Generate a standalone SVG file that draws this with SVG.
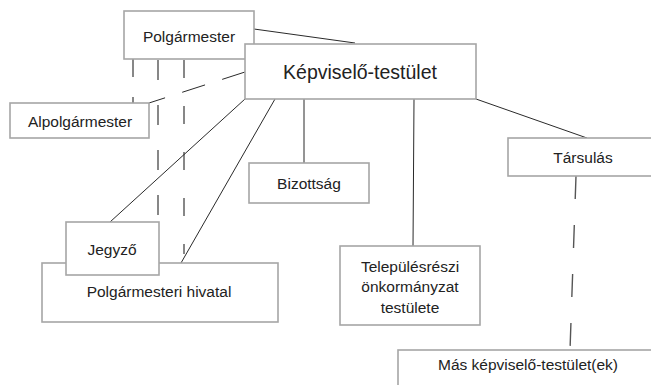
<svg xmlns="http://www.w3.org/2000/svg" width="651" height="385" viewBox="0 0 651 385">
<style>
.box{fill:#fff;stroke:#a6a6a6;stroke-width:1.6}
.t{font-family:"Liberation Sans",Arial,sans-serif;font-size:15.5px;fill:#222;text-anchor:middle}
.big{font-size:19.5px}
.ln{stroke:#2a2a2a;stroke-width:1;fill:none}
.dv{stroke:#555;stroke-width:1.4;fill:none}
</style>
<rect width="651" height="385" fill="#fff"/>
<g id="connectors">
<line class="ln" x1="254" y1="29" x2="355" y2="43"/>
<line class="ln" x1="245" y1="72" x2="149" y2="103" stroke-dasharray="24 18"/>
<line class="dv" x1="133" y1="59" x2="133" y2="103" stroke-dasharray="18 20"/>
<line class="dv" x1="158" y1="60" x2="158" y2="222" stroke-dasharray="20 25"/>
<line class="dv" x1="184" y1="60" x2="184" y2="254" stroke-dasharray="18 28"/>
<line class="ln" x1="245" y1="99" x2="110" y2="222"/>
<line class="ln" x1="275" y1="99" x2="181" y2="263"/>
<line class="ln" x1="304" y1="99" x2="304" y2="163"/>
<line class="ln" x1="414" y1="99" x2="413" y2="246"/>
<line class="ln" x1="476" y1="99" x2="587" y2="138"/>
<line class="dv" x1="576" y1="176" x2="570" y2="350" stroke-dasharray="23 26"/>
</g>
<g id="polgarmester">
<rect class="box" x="124" y="11" width="130" height="48"/>
<text class="t" x="189" y="42">Polgármester</text>
</g>
<g id="kepviselo-testulet">
<rect class="box" x="245" y="44" width="231" height="55"/>
<text class="t big" x="360" y="79">Képviselő-testület</text>
</g>
<g id="alpolgarmester">
<rect class="box" x="10" y="103" width="139" height="35"/>
<text class="t" x="80" y="127">Alpolgármester</text>
</g>
<g id="bizottsag">
<rect class="box" x="249" y="163" width="120" height="40"/>
<text class="t" x="309" y="189">Bizottság</text>
</g>
<g id="tarsulas">
<rect class="box" x="508" y="138" width="150" height="38"/>
<text class="t" x="583" y="163">Társulás</text>
</g>
<g id="polgarmesteri-hivatal">
<rect class="box" x="42" y="263" width="236" height="59"/>
<text class="t" x="159" y="297">Polgármesteri hivatal</text>
</g>
<g id="jegyzo">
<rect class="box" x="66" y="222" width="93" height="53"/>
<text class="t" x="112" y="255">Jegyző</text>
</g>
<g id="telepulesreszi">
<rect class="box" x="340" y="246" width="140" height="79"/>
<text class="t" x="410" y="272">Településrészi</text>
<text class="t" x="410" y="292">önkormányzat</text>
<text class="t" x="410" y="313">testülete</text>
</g>
<g id="mas-kepviselo">
<rect class="box" x="398" y="350" width="270" height="50"/>
<text class="t" x="528" y="370">Más képviselő-testület(ek)</text>
</g>
</svg>
